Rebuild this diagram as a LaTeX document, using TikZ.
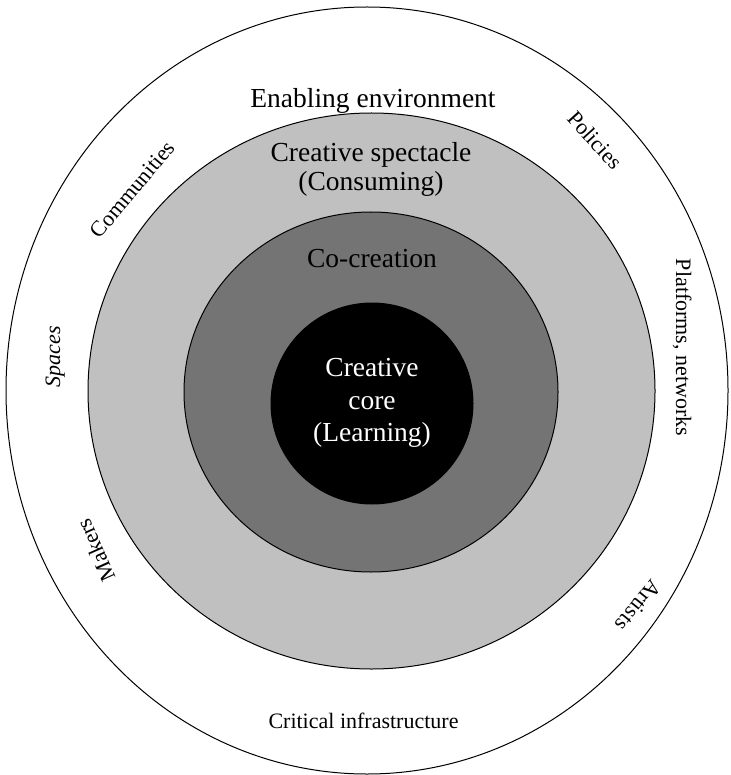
\documentclass[tikz,border=0pt]{standalone}
\usepackage{fontspec}
\setmainfont{Liberation Serif}
\begin{document}
\begin{tikzpicture}[x=1pt,y=-1pt,
  ring/.style={draw=black,line width=1pt},
  biglab/.style={font=\fontsize{27.5}{30}\selectfont,anchor=base,inner sep=0pt},
  smalllab/.style={font=\fontsize{22}{24}\selectfont,anchor=base,inner sep=0pt},
]
\definecolor{lightring}{RGB}{192,192,192}
\definecolor{darkring}{RGB}{116,116,116}
\useasboundingbox (0,0) rectangle (730,775);
\fill[white] (0,0) rectangle (730,775);
% rings
\draw[ring,fill=white] (367,390.5) ellipse [x radius=361, y radius=383.5];
\draw[ring,fill=lightring] (371.5,391) ellipse [x radius=283.5, y radius=278];
\draw[ring,fill=darkring] (371,392) ellipse [x radius=187, y radius=180];
\draw[ring,fill=black] (372,403.5) ellipse [x radius=101, y radius=100.5];
% main labels
\node[biglab] (env) at (373,108) {Enabling environment};
\node[biglab] (spec1) at (371,162) {Creative spectacle};
\node[biglab] (spec2) at (371,190.5) {(Consuming)};
\node[biglab] (cocr) at (372,268) {Co-creation};
\node[biglab,text=white] (core1) at (372,376) {Creative};
\node[biglab,text=white] (core2) at (372,409) {core};
\node[biglab,text=white] (core3) at (372,441.5) {(Learning)};
\node[smalllab] (crit) at (363.5,728) {Critical infrastructure};
% rotated labels in outer ring
\node[smalllab,rotate=50] (comm) at (138,194) {Communities};
\node[smalllab,rotate=90] (spaces) at (60,356.5) {\itshape Spaces};
\node[smalllab,rotate=114] (makers) at (102.5,547.6) {Makers};
\node[smalllab,rotate=-48] (pol) at (589.5,145) {Policies};
\node[smalllab,rotate=-90] (plat) at (676,347.5) {Platforms, networks};
\node[smalllab,rotate=-129] (art) at (633,601) {Artists};
\end{tikzpicture}
\end{document}
